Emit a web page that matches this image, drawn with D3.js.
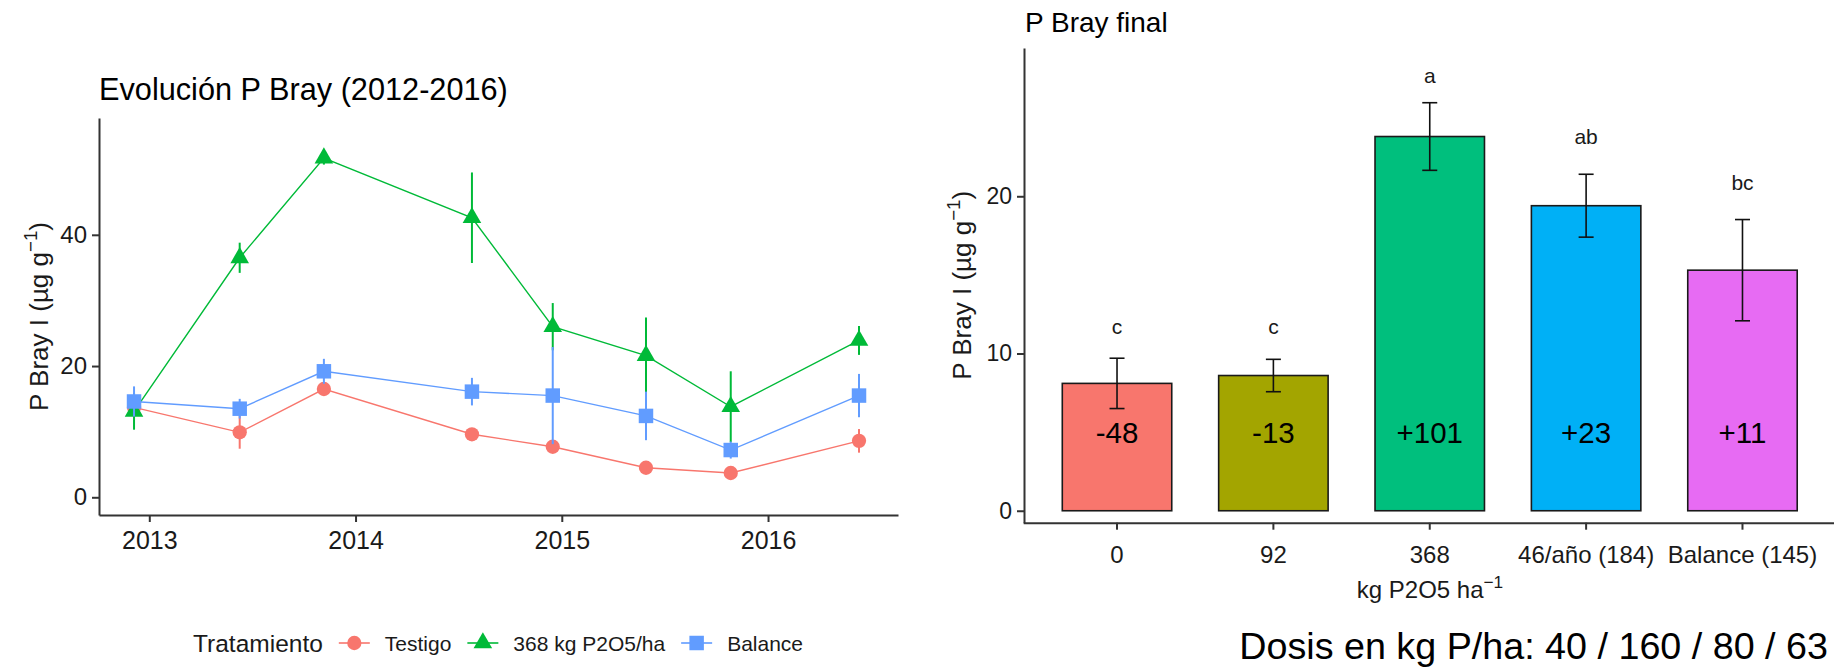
<!DOCTYPE html>
<html>
<head>
<meta charset="utf-8">
<script src="https://cdn.jsdelivr.net/npm/d3@7"></script>
<style>
  body { margin: 0; background: #ffffff; }
  svg { display: block; font-family: "Liberation Sans", Arial, sans-serif; }
</style>
</head>
<body>
<svg id="chart" width="1834" height="672"></svg>
<script>
// ---------- Evolución P Bray (2012-2016) ----------
const sampleDates = ["2012-12-05", "2013-06-10", "2013-11-06", "2014-07-26",
                     "2014-12-16", "2015-05-30", "2015-10-27", "2016-06-10"];
const treatments = ["Testigo", "368 kg P2O5/ha", "Balance"];
const testigoMean = [13.7, 9.9, 16.5, 9.6, 7.7, 4.5, 3.7, 8.6];
const testigoSe   = [0.5, 2.5, 0.7, 0.6, 0.8, 0.7, 0.7, 1.8];
const p368Mean    = [13.1, 36.5, 51.7, 42.6, 26.0, 21.6, 13.8, 23.9];
const p368Se      = [2.8, 2.3, 1.0, 6.9, 3.6, 5.8, 5.4, 2.2];
const balanceMean = [14.6, 13.5, 19.2, 16.1, 15.5, 12.4, 7.2, 15.5];
const balanceSe   = [2.3, 1.5, 1.9, 2.1, 7.4, 3.7, 1.3, 3.3];
const evoYTicks = [0, 20, 40];
const yearTicks = ["2013-01-01", "2014-01-01", "2015-01-01", "2016-01-01"];

// ---------- P Bray final ----------
const doses = ["0", "92", "368", "46/año (184)", "Balance (145)"];
const finalMean = [8.1, 8.6, 23.8, 19.4, 15.3];
const finalSe   = [1.6, 1.03, 2.15, 2.0, 3.22];
const groupLetters = ["c", "c", "a", "ab", "bc"];
const letterY = [11.7, 11.7, 27.7, 23.8, 20.9];
const changePct = ["-48", "-13", "+101", "+23", "+11"];
const changeLabelY = 5;
const finalYTicks = [0, 10, 20];
const dosisNote = "Dosis en kg P/ha: 40 / 160 / 80 / 63";

const evoColors = ["#F8766D", "#00BA38", "#619CFF"];
const evoShapes = [d3.symbolCircle, d3.symbolTriangle, d3.symbolSquare];
const evoShapeSize = [160, 150, 210];
const barColors = ["#F8766D", "#A3A500", "#00BF7D", "#00B0F6", "#E76BF3"];

const axisColor = "#333333";
const textColor = "#1a1a1a";

const svg = d3.select("#chart");

function styleAxis(g, fontSize) {
  g.select(".domain").attr("stroke", axisColor).attr("stroke-width", 2);
  g.selectAll(".tick line").attr("stroke", axisColor).attr("stroke-width", 2);
  g.selectAll(".tick text")
    .attr("fill", textColor)
    .attr("font-size", fontSize)
    .attr("font-family", '"Liberation Sans", Arial, sans-serif');
}

// axis title with a "−1" superscript unit
function unitTitle(sel, before, after, size) {
  sel.append("tspan").text(before);
  sel.append("tspan").attr("font-size", size * 0.72).attr("dy", -size * 0.42).text("−1");
  sel.append("tspan").attr("dy", size * 0.42).text(after);
}

// ================= left panel =================
const L = { left: 99, right: 898, top: 118, bottom: 515 };
const parse = d3.timeParse("%Y-%m-%d");
const dates = sampleDates.map(parse);

const xEvo = d3.scaleTime()
  .domain([parse("2012-10-04"), parse("2016-08-18")])
  .range([L.left, L.right]);
const yEvo = d3.scaleLinear().domain([-2.7, 57.8]).range([L.bottom, L.top]);

const gL = svg.append("g");

gL.append("g")
  .attr("transform", `translate(${L.left},0)`)
  .call(d3.axisLeft(yEvo).tickValues(evoYTicks).tickSize(7).tickSizeOuter(0).tickPadding(5))
  .call(g => styleAxis(g, 24));

gL.append("g")
  .attr("transform", `translate(0,${L.bottom})`)
  .call(d3.axisBottom(xEvo).tickValues(yearTicks.map(parse)).tickFormat(d3.timeFormat("%Y"))
          .tickSize(7).tickSizeOuter(0).tickPadding(9))
  .call(g => styleAxis(g, 25));

const series = [
  { mean: testigoMean, se: testigoSe },
  { mean: p368Mean, se: p368Se },
  { mean: balanceMean, se: balanceSe }
].map((s, k) => ({ ...s, name: treatments[k], color: evoColors[k], shape: evoShapes[k], size: evoShapeSize[k] }));

const line = d3.line().x((d, i) => xEvo(dates[i])).y(d => yEvo(d));

series.forEach(s => {
  gL.append("path")
    .attr("d", line(s.mean))
    .attr("fill", "none")
    .attr("stroke", s.color)
    .attr("stroke-width", 1.4);
});

series.forEach(s => {
  const g = gL.append("g");
  g.selectAll("line")
    .data(s.mean)
    .join("line")
    .attr("x1", (d, i) => xEvo(dates[i]))
    .attr("x2", (d, i) => xEvo(dates[i]))
    .attr("y1", (d, i) => yEvo(d - s.se[i]))
    .attr("y2", (d, i) => yEvo(d + s.se[i]))
    .attr("stroke", s.color)
    .attr("stroke-width", 2);
  g.selectAll("path")
    .data(s.mean)
    .join("path")
    .attr("d", d3.symbol(s.shape, s.size))
    .attr("transform", (d, i) => `translate(${xEvo(dates[i])},${yEvo(d)})`)
    .attr("fill", s.color);
});

gL.append("text")
  .attr("x", 99).attr("y", 100)
  .attr("font-size", 30.7)
  .attr("fill", "#000")
  .text("Evolución P Bray (2012-2016)");

gL.append("text")
  .attr("transform", `translate(48,${(L.top + L.bottom) / 2}) rotate(-90)`)
  .attr("text-anchor", "middle")
  .attr("font-size", 26)
  .attr("fill", textColor)
  .call(t => unitTitle(t, "P Bray I (µg g", ")", 26));

// legend
const legend = gL.append("g").attr("transform", "translate(193,643)");
const legTitle = legend.append("text")
  .attr("x", 0).attr("y", 0)
  .attr("dominant-baseline", "central")
  .attr("font-size", 24.5)
  .attr("fill", textColor)
  .text("Tratamiento");
let lx = legTitle.node().getComputedTextLength() + 16;
series.forEach(s => {
  legend.append("line")
    .attr("x1", lx).attr("x2", lx + 31)
    .attr("y1", 0).attr("y2", 0)
    .attr("stroke", s.color).attr("stroke-width", 1.6);
  legend.append("path")
    .attr("d", d3.symbol(s.shape, s.size)())
    .attr("transform", `translate(${lx + 15.5},0)`)
    .attr("fill", s.color);
  lx += 31 + 15;
  const t = legend.append("text")
    .attr("x", lx).attr("y", 0)
    .attr("dominant-baseline", "central")
    .attr("font-size", 21)
    .attr("fill", textColor)
    .text(s.name);
  lx += t.node().getComputedTextLength() + 16;
});

// ================= right panel =================
const R = { left: 1024, right: 1836, top: 48, bottom: 522.7 };
const xBar = d3.scaleBand()
  .domain(doses)
  .range([1023.2, 1836.3])
  .paddingInner(0.3)
  .paddingOuter(0.25);
const yBar = d3.scaleLinear().domain([-0.76, 29.43]).range([R.bottom, R.top]);

const gR = svg.append("g");

gR.append("g")
  .selectAll("rect")
  .data(finalMean)
  .join("rect")
  .attr("x", (d, i) => xBar(doses[i]))
  .attr("width", xBar.bandwidth())
  .attr("y", d => yBar(d))
  .attr("height", d => yBar(0) - yBar(d))
  .attr("fill", (d, i) => barColors[i])
  .attr("stroke", "#1a1a1a")
  .attr("stroke-width", 1.6);

const cx = i => xBar(doses[i]) + xBar.bandwidth() / 2;
const capHalf = 7.5;
const eb = gR.append("g").attr("stroke", "#111").attr("stroke-width", 1.6);
finalMean.forEach((m, i) => {
  const top = yBar(m + finalSe[i]), bot = yBar(m - finalSe[i]);
  eb.append("line").attr("x1", cx(i)).attr("x2", cx(i)).attr("y1", top).attr("y2", bot);
  eb.append("line").attr("x1", cx(i) - capHalf).attr("x2", cx(i) + capHalf).attr("y1", top).attr("y2", top);
  eb.append("line").attr("x1", cx(i) - capHalf).attr("x2", cx(i) + capHalf).attr("y1", bot).attr("y2", bot);
});

gR.append("g")
  .selectAll("text")
  .data(groupLetters)
  .join("text")
  .attr("x", (d, i) => cx(i))
  .attr("y", (d, i) => yBar(letterY[i]))
  .attr("text-anchor", "middle")
  .attr("dominant-baseline", "central")
  .attr("font-size", 21)
  .attr("fill", textColor)
  .text(d => d);

gR.append("g")
  .selectAll("text")
  .data(changePct)
  .join("text")
  .attr("x", (d, i) => cx(i))
  .attr("y", yBar(changeLabelY))
  .attr("text-anchor", "middle")
  .attr("dominant-baseline", "central")
  .attr("font-size", 29.5)
  .attr("fill", "#000")
  .text(d => d);

gR.append("g")
  .attr("transform", `translate(${R.left},0)`)
  .call(d3.axisLeft(yBar).tickValues(finalYTicks).tickSize(7).tickSizeOuter(0).tickPadding(5))
  .call(g => styleAxis(g, 23));

gR.append("g")
  .attr("transform", `translate(0,${R.bottom})`)
  .call(d3.axisBottom(xBar).tickSize(7).tickSizeOuter(0).tickPadding(16))
  .call(g => styleAxis(g, 24));

gR.append("text")
  .attr("x", 1025).attr("y", 31.7)
  .attr("font-size", 28)
  .attr("fill", "#000")
  .text("P Bray final");

gR.append("text")
  .attr("transform", `translate(971,${(R.top + R.bottom) / 2}) rotate(-90)`)
  .attr("text-anchor", "middle")
  .attr("font-size", 26)
  .attr("fill", textColor)
  .call(t => unitTitle(t, "P Bray I (µg g", ")", 26));

gR.append("text")
  .attr("x", (R.left + R.right) / 2).attr("y", 598)
  .attr("text-anchor", "middle")
  .attr("font-size", 24)
  .attr("fill", textColor)
  .call(t => unitTitle(t, "kg P2O5 ha", "", 24));

svg.append("text")
  .attr("x", 1828).attr("y", 659)
  .attr("text-anchor", "end")
  .attr("font-size", 37.7)
  .attr("fill", "#000")
  .text(dosisNote);
</script>
</body>
</html>
